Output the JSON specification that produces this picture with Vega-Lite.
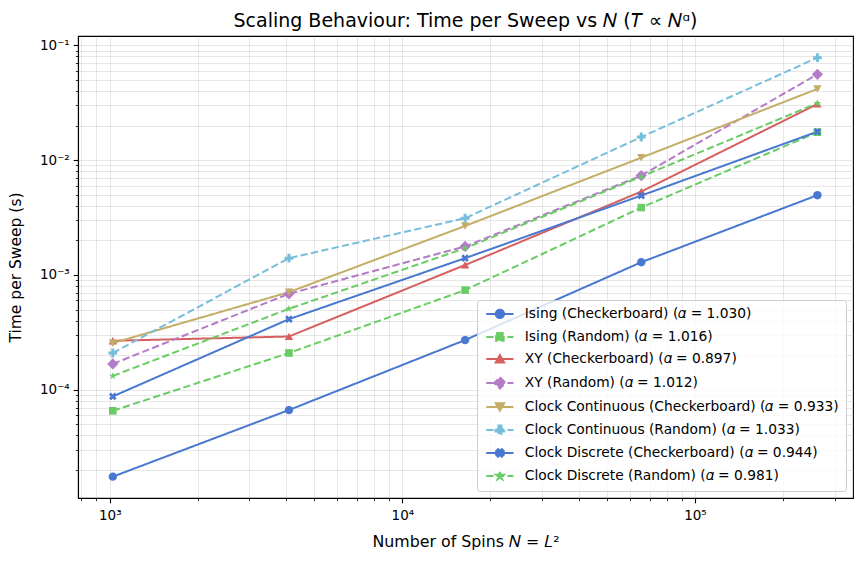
{
  "$schema": "https://vega.github.io/schema/vega-lite/v6.json",
  "autosize": {"type": "none"},
  "width": 775,
  "height": 462,
  "padding": {"left": 78, "top": 36, "right": 8, "bottom": 68},
  "background": "white",
  "config": {
    "font": "DejaVu Sans",
    "view": {"stroke": "black", "strokeWidth": 1.1}
  },
  "title": {
    "text": "Scaling Behaviour: Time per Sweep vs 𝑁 (𝑇 ∝ 𝑁ᵅ)",
    "font": "DejaVu Sans",
    "fontSize": 19,
    "fontWeight": "normal",
    "color": "black",
    "anchor": "middle",
    "offset": 5
  },
  "data": {
    "values": [
      {"series": "Ising (Checkerboard) (𝛼 = 1.030)", "key": "IC", "N": 1024, "t": 1.75e-5},
      {"series": "Ising (Checkerboard) (𝛼 = 1.030)", "key": "IC", "N": 4096, "t": 6.66e-5},
      {"series": "Ising (Checkerboard) (𝛼 = 1.030)", "key": "IC", "N": 16384, "t": 2.71e-4},
      {"series": "Ising (Checkerboard) (𝛼 = 1.030)", "key": "IC", "N": 65536, "t": 1.29e-3},
      {"series": "Ising (Checkerboard) (𝛼 = 1.030)", "key": "IC", "N": 262144, "t": 4.95e-3},
      {"series": "Ising (Random) (𝛼 = 1.016)", "key": "IR", "N": 1024, "t": 6.56e-5},
      {"series": "Ising (Random) (𝛼 = 1.016)", "key": "IR", "N": 4096, "t": 2.09e-4},
      {"series": "Ising (Random) (𝛼 = 1.016)", "key": "IR", "N": 16384, "t": 7.38e-4},
      {"series": "Ising (Random) (𝛼 = 1.016)", "key": "IR", "N": 65536, "t": 3.86e-3},
      {"series": "Ising (Random) (𝛼 = 1.016)", "key": "IR", "N": 262144, "t": 1.75e-2},
      {"series": "XY (Checkerboard) (𝛼 = 0.897)", "key": "XC", "N": 1024, "t": 2.67e-4},
      {"series": "XY (Checkerboard) (𝛼 = 0.897)", "key": "XC", "N": 4096, "t": 2.91e-4},
      {"series": "XY (Checkerboard) (𝛼 = 0.897)", "key": "XC", "N": 16384, "t": 1.22e-3},
      {"series": "XY (Checkerboard) (𝛼 = 0.897)", "key": "XC", "N": 65536, "t": 5.32e-3},
      {"series": "XY (Checkerboard) (𝛼 = 0.897)", "key": "XC", "N": 262144, "t": 3.08e-2},
      {"series": "XY (Random) (𝛼 = 1.012)", "key": "XR", "N": 1024, "t": 1.68e-4},
      {"series": "XY (Random) (𝛼 = 1.012)", "key": "XR", "N": 4096, "t": 6.85e-4},
      {"series": "XY (Random) (𝛼 = 1.012)", "key": "XR", "N": 16384, "t": 1.77e-3},
      {"series": "XY (Random) (𝛼 = 1.012)", "key": "XR", "N": 65536, "t": 7.33e-3},
      {"series": "XY (Random) (𝛼 = 1.012)", "key": "XR", "N": 262144, "t": 5.59e-2},
      {"series": "Clock Continuous (Checkerboard) (𝛼 = 0.933)", "key": "CCC", "N": 1024, "t": 2.55e-4},
      {"series": "Clock Continuous (Checkerboard) (𝛼 = 0.933)", "key": "CCC", "N": 4096, "t": 7.08e-4},
      {"series": "Clock Continuous (Checkerboard) (𝛼 = 0.933)", "key": "CCC", "N": 16384, "t": 2.67e-3},
      {"series": "Clock Continuous (Checkerboard) (𝛼 = 0.933)", "key": "CCC", "N": 65536, "t": 1.05e-2},
      {"series": "Clock Continuous (Checkerboard) (𝛼 = 0.933)", "key": "CCC", "N": 262144, "t": 4.17e-2},
      {"series": "Clock Continuous (Random) (𝛼 = 1.033)", "key": "CCR", "N": 1024, "t": 2.09e-4},
      {"series": "Clock Continuous (Random) (𝛼 = 1.033)", "key": "CCR", "N": 4096, "t": 1.40e-3},
      {"series": "Clock Continuous (Random) (𝛼 = 1.033)", "key": "CCR", "N": 16384, "t": 3.12e-3},
      {"series": "Clock Continuous (Random) (𝛼 = 1.033)", "key": "CCR", "N": 65536, "t": 1.59e-2},
      {"series": "Clock Continuous (Random) (𝛼 = 1.033)", "key": "CCR", "N": 262144, "t": 7.80e-2},
      {"series": "Clock Discrete (Checkerboard) (𝛼 = 0.944)", "key": "CDC", "N": 1024, "t": 8.75e-5},
      {"series": "Clock Discrete (Checkerboard) (𝛼 = 0.944)", "key": "CDC", "N": 4096, "t": 4.12e-4},
      {"series": "Clock Discrete (Checkerboard) (𝛼 = 0.944)", "key": "CDC", "N": 16384, "t": 1.40e-3},
      {"series": "Clock Discrete (Checkerboard) (𝛼 = 0.944)", "key": "CDC", "N": 65536, "t": 4.91e-3},
      {"series": "Clock Discrete (Checkerboard) (𝛼 = 0.944)", "key": "CDC", "N": 262144, "t": 1.77e-2},
      {"series": "Clock Discrete (Random) (𝛼 = 0.981)", "key": "CDR", "N": 1024, "t": 1.32e-4},
      {"series": "Clock Discrete (Random) (𝛼 = 0.981)", "key": "CDR", "N": 4096, "t": 5.07e-4},
      {"series": "Clock Discrete (Random) (𝛼 = 0.981)", "key": "CDR", "N": 16384, "t": 1.71e-3},
      {"series": "Clock Discrete (Random) (𝛼 = 0.981)", "key": "CDR", "N": 65536, "t": 7.18e-3},
      {"series": "Clock Discrete (Random) (𝛼 = 0.981)", "key": "CDR", "N": 262144, "t": 3.13e-2}
    ]
  },
  "encoding": {
    "x": {
      "field": "N",
      "type": "quantitative",
      "scale": {"type": "log", "domain": [778.6, 346900], "nice": false},
      "axis": {
        "title": "Number of Spins 𝑁 = 𝐿²",
        "values": [800, 900, 1000, 2000, 3000, 4000, 5000, 6000, 7000, 8000, 9000, 10000, 20000, 30000, 40000, 50000, 60000, 70000, 80000, 90000, 100000, 200000, 300000],
        "labelExpr": "datum.value == 1000 ? '10³' : datum.value == 10000 ? '10⁴' : datum.value == 100000 ? '10⁵' : ''",
        "labelOverlap": false,
        "labelFlush": false,
        "labelBound": false,
        "grid": true,
        "gridColor": "#b0b0b0",
        "gridOpacity": 0.3,
        "gridWidth": 1,
        "domainColor": "black",
        "domainWidth": 1.1,
        "tickColor": "black",
        "tickSize": {"condition": {"test": "datum.value == 1000 || datum.value == 10000 || datum.value == 100000", "value": 4.8}, "value": 2.7},
        "tickWidth": {"condition": {"test": "datum.value == 1000 || datum.value == 10000 || datum.value == 100000", "value": 1.1}, "value": 0.8},
        "labelFont": "DejaVu Sans",
        "labelFontSize": 13.5,
        "labelColor": "black",
        "labelPadding": 6,
        "titleFont": "DejaVu Sans",
        "titleFontSize": 15.8,
        "titleFontWeight": "normal",
        "titleColor": "black",
        "titlePadding": 12
      }
    },
    "y": {
      "field": "t",
      "type": "quantitative",
      "scale": {"type": "log", "domain": [1.141e-5, 0.1205], "nice": false},
      "axis": {
        "title": "Time per Sweep (s)",
        "values": [2e-5, 3e-5, 4e-5, 5e-5, 6e-5, 7e-5, 8e-5, 9e-5, 1e-4, 2e-4, 3e-4, 4e-4, 5e-4, 6e-4, 7e-4, 8e-4, 9e-4, 1e-3, 2e-3, 3e-3, 4e-3, 5e-3, 6e-3, 7e-3, 8e-3, 9e-3, 1e-2, 2e-2, 3e-2, 4e-2, 5e-2, 6e-2, 7e-2, 8e-2, 9e-2, 1e-1],
        "labelExpr": "datum.value == 0.1 ? '10⁻¹' : datum.value == 0.01 ? '10⁻²' : datum.value == 0.001 ? '10⁻³' : datum.value == 0.0001 ? '10⁻⁴' : ''",
        "labelOverlap": false,
        "labelFlush": false,
        "labelBound": false,
        "grid": true,
        "gridColor": "#b0b0b0",
        "gridOpacity": 0.3,
        "gridWidth": 1,
        "domainColor": "black",
        "domainWidth": 1.1,
        "tickColor": "black",
        "tickSize": {"condition": {"test": "datum.value == 0.1 || datum.value == 0.01 || datum.value == 0.001 || datum.value == 0.0001", "value": 4.8}, "value": 2.7},
        "tickWidth": {"condition": {"test": "datum.value == 0.1 || datum.value == 0.01 || datum.value == 0.001 || datum.value == 0.0001", "value": 1.1}, "value": 0.8},
        "labelFont": "DejaVu Sans",
        "labelFontSize": 13.5,
        "labelColor": "black",
        "labelPadding": 4,
        "titleFont": "DejaVu Sans",
        "titleFontSize": 15.5,
        "titleFontWeight": "normal",
        "titleColor": "black",
        "titlePadding": 16
      }
    },
    "color": {
      "field": "series",
      "type": "nominal",
      "scale": {
        "domain": [
          "Ising (Checkerboard) (𝛼 = 1.030)",
          "Ising (Random) (𝛼 = 1.016)",
          "XY (Checkerboard) (𝛼 = 0.897)",
          "XY (Random) (𝛼 = 1.012)",
          "Clock Continuous (Checkerboard) (𝛼 = 0.933)",
          "Clock Continuous (Random) (𝛼 = 1.033)",
          "Clock Discrete (Checkerboard) (𝛼 = 0.944)",
          "Clock Discrete (Random) (𝛼 = 0.981)"
        ],
        "range": ["#4878d0", "#6acc64", "#d65f5f", "#b47cc7", "#c4ad66", "#77bedb", "#4878d0", "#6acc64"]
      },
      "legend": {
        "title": null,
        "orient": "bottom-right",
        "offset": 7,
        "padding": 7,
        "rowPadding": 6,
        "symbolSize": 64,
        "symbolOffset": 9,
        "labelOffset": 18,
        "labelFont": "DejaVu Sans",
        "labelFontSize": 13.8,
        "labelColor": "black",
        "labelLimit": 500,
        "fillColor": "rgba(255,255,255,0.8)",
        "strokeColor": "#cccccc",
        "cornerRadius": 3,
        "encode": {
          "symbols": {
            "update": {
              "shape": {"signal": "['M-3.4,0L3.4,0M1.05,0L0.97,0.402L0.742,0.742L0.402,0.97L0,1.05L-0.402,0.97L-0.742,0.742L-0.97,0.402L-1.05,0L-0.97,-0.402L-0.742,-0.742L-0.402,-0.97L0,-1.05L0.402,-0.97L0.742,-0.742L0.97,-0.402Z', 'M-3.4,0L3.4,0M-0.95,-0.95L0.95,-0.95L0.95,0.95L-0.95,0.95Z', 'M-3.4,0L3.4,0M0,-0.95L1.05,0.9L-1.05,0.9Z', 'M-3.4,0L3.4,0M0,-1.4L1.4,0L0,1.4L-1.4,0Z', 'M-3.4,0L3.4,0M0,0.95L1.05,-0.9L-1.05,-0.9Z', 'M-3.4,0L3.4,0M-0.38,-1.1L0.38,-1.1L0.38,-0.38L1.1,-0.38L1.1,0.38L0.38,0.38L0.38,1.1L-0.38,1.1L-0.38,0.38L-1.1,0.38L-1.1,-0.38L-0.38,-0.38Z', 'M-3.4,0L3.4,0M0.46,-0.955L0.955,-0.46L0.495,0L0.955,0.46L0.46,0.955L0,0.495L-0.46,0.955L-0.955,0.46L-0.495,0L-0.955,-0.46L-0.46,-0.955L0,-0.495Z', 'M-3.4,0L3.4,0M0,-1L0.223,-0.307L0.951,-0.309L0.361,0.117L0.588,0.809L0,0.38L-0.588,0.809L-0.361,0.117L-0.951,-0.309L-0.223,-0.307Z'][indexof(domain('color'), datum.value)]"},
              "size": {"value": 64},
              "fill": {"signal": "scale('color', datum.value)"},
              "stroke": {"signal": "scale('color', datum.value)"},
              "strokeWidth": {"value": 2},
              "strokeDash": {"signal": "scale('strokeDash', datum.value)"},
              "opacity": {"value": 1},
              "fillOpacity": {"value": 1},
              "strokeOpacity": {"value": 1}
            }
          }
        }
      }
    }
  },
  "layer": [
    {
      "mark": {"type": "line", "strokeWidth": 2},
      "encoding": {
        "strokeDash": {
          "field": "series",
          "type": "nominal",
          "scale": {
            "domain": [
              "Ising (Checkerboard) (𝛼 = 1.030)",
              "Ising (Random) (𝛼 = 1.016)",
              "XY (Checkerboard) (𝛼 = 0.897)",
              "XY (Random) (𝛼 = 1.012)",
              "Clock Continuous (Checkerboard) (𝛼 = 0.933)",
              "Clock Continuous (Random) (𝛼 = 1.033)",
              "Clock Discrete (Checkerboard) (𝛼 = 0.944)",
              "Clock Discrete (Random) (𝛼 = 0.981)"
            ],
            "range": [[1, 0], [7.3, 3.3], [1, 0], [7.3, 3.3], [1, 0], [7.3, 3.3], [1, 0], [7.3, 3.3]]
          },
          "legend": null
        }
      }
    },
    {
      "mark": {"type": "point", "filled": true, "opacity": 1, "size": 64},
      "encoding": {
        "shape": {
          "field": "key",
          "type": "nominal",
          "scale": {
            "domain": ["IC", "IR", "XC", "XR", "CCC", "CCR", "CDC", "CDR"],
            "range": [
              "M1.05,0L0.97,0.402L0.742,0.742L0.402,0.97L0,1.05L-0.402,0.97L-0.742,0.742L-0.97,0.402L-1.05,0L-0.97,-0.402L-0.742,-0.742L-0.402,-0.97L0,-1.05L0.402,-0.97L0.742,-0.742L0.97,-0.402Z",
              "M-0.95,-0.95L0.95,-0.95L0.95,0.95L-0.95,0.95Z",
              "M0,-0.95L1.05,0.9L-1.05,0.9Z",
              "M0,-1.4L1.4,0L0,1.4L-1.4,0Z",
              "M0,0.95L1.05,-0.9L-1.05,-0.9Z",
              "M-0.38,-1.1L0.38,-1.1L0.38,-0.38L1.1,-0.38L1.1,0.38L0.38,0.38L0.38,1.1L-0.38,1.1L-0.38,0.38L-1.1,0.38L-1.1,-0.38L-0.38,-0.38Z",
              "M0.46,-0.955L0.955,-0.46L0.495,0L0.955,0.46L0.46,0.955L0,0.495L-0.46,0.955L-0.955,0.46L-0.495,0L-0.955,-0.46L-0.46,-0.955L0,-0.495Z",
              "M0,-1L0.223,-0.307L0.951,-0.309L0.361,0.117L0.588,0.809L0,0.38L-0.588,0.809L-0.361,0.117L-0.951,-0.309L-0.223,-0.307Z"
            ]
          },
          "legend": null
        }
      }
    }
  ]
}
